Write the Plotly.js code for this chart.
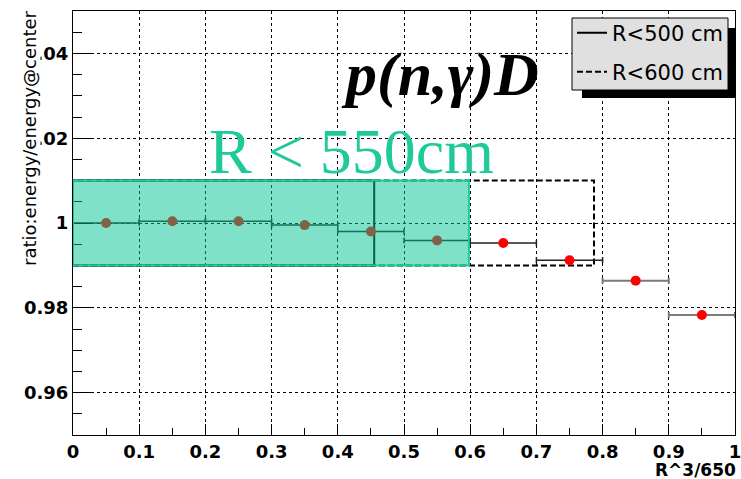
<!DOCTYPE html>
<html>
<head>
<meta charset="utf-8">
<script src="https://cdn.plot.ly/plotly-3.0.1.min.js"></script>
<style>html,body{margin:0;padding:0;background:#fff;}#chart{width:741px;height:479px;}</style>
</head>
<body>
<div id="chart"></div>
<script>
// ---- data ----
var binCenters = [0.05, 0.15, 0.25, 0.35, 0.45, 0.55, 0.65, 0.75, 0.85, 0.95];
var ratioValues = [1.0000, 1.0004, 1.0004, 0.9995, 0.9980, 0.9959, 0.9953, 0.9912, 0.9864, 0.9783];
var binHalfWidth = 0.05;
var cutLabels = ["R<500 cm", "R<600 cm"];
var cutEdges = [0.455, 0.787];       // (R/650)^3 for R = 500, 600 cm
var greenCutEdge = 0.598;            // R < 550cm highlight
var bandLow = 0.99, bandHigh = 1.01;
var xTitle = "R^3/650";
var yTitle = "ratio:energy/energy@center";
var reactionLabel = "p(n,γ)D";
var cutText = "R < 550cm";

function rectX(x1){ return [0, x1, x1, 0, 0]; }
function rectY(){ return [bandLow, bandLow, bandHigh, bandHigh, bandLow]; }

var nDark = 8;
var traces = [
  {type:'scatter', mode:'lines', x: rectX(cutEdges[0]), y: rectY(), name: cutLabels[0],
   line:{color:'#000', width:2}, legend:'legend', hoverinfo:'skip'},
  {type:'scatter', mode:'lines', x: rectX(cutEdges[1]), y: rectY(), name: cutLabels[1],
   line:{color:'#000', width:2, dash:'6px,3px'}, legend:'legend2', hoverinfo:'skip'},
  {type:'scatter', mode:'markers', x: binCenters.slice(0, nDark), y: ratioValues.slice(0, nDark), showlegend:false,
   marker:{color:'#ff0000', size:10},
   error_x:{type:'constant', value: binHalfWidth, color:'#222', thickness:1.5, width:3}},
  {type:'scatter', mode:'markers', x: binCenters.slice(nDark), y: ratioValues.slice(nDark), showlegend:false,
   marker:{color:'#ff0000', size:10},
   error_x:{type:'constant', value: binHalfWidth, color:'#7a7a7a', thickness:2, width:3}}
];

var L = 73, R = 6, T = 11, B = 44, W = 741, H = 479;
var pw = W - L - R, ph = H - T - B;
function px(x){ return (x - L) / pw; }
function py(y){ return (H - B - y) / ph; }

var tickFont = {family:'DejaVu Sans, sans-serif', size:18, color:'#000', weight:'bold'};
var legFont = {family:'DejaVu Sans, sans-serif', size:21, color:'#000'};

var layout = {
  width: W, height: H,
  margin: {l:L, r:R, t:T, b:B, pad:0},
  paper_bgcolor:'#fff', plot_bgcolor:'#fff',
  showlegend: true,
  legend: {x: px(572), y: py(33), xanchor:'left', yanchor:'middle',
           bgcolor:'rgba(0,0,0,0)', borderwidth:0, font: legFont, itemwidth:30},
  legend2: {x: px(572), y: py(72), xanchor:'left', yanchor:'middle',
           bgcolor:'rgba(0,0,0,0)', borderwidth:0, font: legFont, itemwidth:30},
  xaxis: {range:[0,1], dtick:0.1, tick0:0, ticks:'inside', ticklen:11, tickcolor:'#000',
          showline:true, linecolor:'#000', linewidth:1, mirror:true, zeroline:false,
          showgrid:true, gridcolor:'#000', griddash:'dot', gridwidth:1,
          minor:{dtick:0.05, ticks:'inside', ticklen:7, tickcolor:'#000', showgrid:false},
          tickfont: tickFont, ticklabeloverflow:'allow', fixedrange:true},
  yaxis: {range:[0.95,1.05], dtick:0.02, tick0:0.96, ticks:'inside', ticklen:18, tickcolor:'#000',
          showline:true, linecolor:'#000', linewidth:1, mirror:true, zeroline:false,
          showgrid:true, gridcolor:'#000', griddash:'dot', gridwidth:1,
          minor:{dtick:0.005, ticks:'inside', ticklen:9, tickcolor:'#000', showgrid:false},
          tickfont: tickFont, ticklabeloverflow:'allow', fixedrange:true},
  shapes: [
    {type:'rect', xref:'x', yref:'y', x0:0, x1:greenCutEdge, y0:bandLow, y1:bandHigh,
     fillcolor:'rgba(0,197,145,0.5)', line:{color:'#1fc99a', width:2}, layer:'above'},
    {type:'rect', xref:'paper', yref:'paper', x0:px(582), x1:px(736), y0:py(98), y1:py(28),
     fillcolor:'#000', line:{width:0}, layer:'above'},
    {type:'rect', xref:'paper', yref:'paper', x0:px(572), x1:px(728), y0:py(90), y1:py(18),
     fillcolor:'#e0e0e0', line:{color:'#000', width:1}, layer:'above'}
  ],
  annotations: [
    {xref:'paper', yref:'paper', x:px(29), y:py(138), xanchor:'center', yanchor:'middle',
     text: yTitle, textangle:-90, showarrow:false, bgcolor:'#fff', borderpad:0,
     font:{family:'DejaVu Sans, sans-serif', size:18, color:'#000'}},
    {xref:'paper', yref:'paper', x:px(738), y:py(470), xanchor:'right', yanchor:'middle',
     text: xTitle, showarrow:false,
     font:{family:'DejaVu Sans, sans-serif', size:17, color:'#000', weight:'bold'}},
    {xref:'paper', yref:'paper', x:px(440), y:py(75), xanchor:'center', yanchor:'middle',
     text:'<b><i>' + reactionLabel + '</i></b>', showarrow:false,
     font:{family:'Liberation Serif, Times New Roman, serif', size:62, color:'#000'}},
    {xref:'paper', yref:'paper', x:px(351), y:py(152), xanchor:'center', yanchor:'middle',
     text: cutText.replace('<', '&lt;'), showarrow:false,
     font:{family:'Liberation Serif, Times New Roman, serif', size:64, color:'#1fc99a'}}
  ]
};

Plotly.newPlot('chart', traces, layout, {staticPlot:true, displayModeBar:false});
</script>
</body>
</html>
